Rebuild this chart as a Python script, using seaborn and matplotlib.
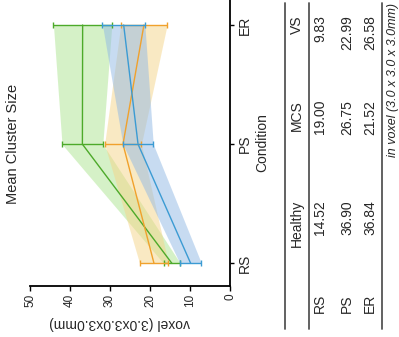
import numpy as np
import pandas as pd
import seaborn as sns
import matplotlib
matplotlib.use("Agg")
from matplotlib import pyplot as plt
from matplotlib.lines import Line2D

conditions = ["RS", "PS", "ER"]
groups = ["Healthy", "MCS", "VS"]
healthy = [14.52, 36.90, 36.84]
mcs = [19.00, 26.75, 21.52]
vs = [9.83, 22.99, 26.58]
healthy_err = [2.1, 5.1, 7.3]
mcs_err = [3.6, 4.6, 5.8]
vs_err = [2.7, 3.8, 5.3]
value_ticks = [0, 10, 20, 30, 40, 50]

line_colors = {"Healthy": "#4DAA2A", "MCS": "#F0A12C", "VS": "#3B9BD3"}
fill_colors = {"Healthy": "#ADE591", "MCS": "#F5D589", "VS": "#91B9E5"}

sns.set_style("white")
plt.rcParams["font.family"] = ["Liberation Sans", "DejaVu Sans"]

W, H = 399, 337
def px(x, y):
    return x / W, 1 - y / H

fig = plt.figure(figsize=(W / 100, H / 100), dpi=100)
ax = fig.add_axes([30 / W, 51 / H, 200 / W, 286 / H])

pos = np.arange(len(conditions))
series = [healthy, mcs, vs]
errors = [healthy_err, mcs_err, vs_err]

# shaded bands between error limits
for name, vals, err in zip(groups, series, errors):
    vals = np.array(vals)
    err = np.array(err)
    ax.fill_betweenx(pos, vals - err, vals + err, color=fill_colors[name],
                     alpha=0.5, lw=0, zorder=1)

df = pd.DataFrame({
    "pos": np.tile(pos, len(groups)),
    "voxel": healthy + mcs + vs,
    "group": np.repeat(groups, len(conditions)),
})
sns.lineplot(data=df, x="voxel", y="pos", hue="group", palette=line_colors,
             orient="y", lw=1, legend=False, ax=ax, zorder=3)

for name, vals, err in zip(groups, series, errors):
    ax.errorbar(vals, pos, xerr=err, fmt="none", ecolor=line_colors[name],
                elinewidth=1, capsize=2, capthick=1, zorder=4)

ax.set_xlim(50, 0)
ax.set_ylim(-0.19, 2.21)
ax.set_xticks(value_ticks)
ax.set_yticks(pos, conditions)
ax.yaxis.tick_right()

for side in ["left", "top"]:
    ax.spines[side].set_visible(False)
for side in ["right", "bottom"]:
    ax.spines[side].set_color("black")
    ax.spines[side].set_linewidth(1.3)

ax.tick_params(axis="x", labelrotation=90, labelsize=8.5, length=3.5, width=1,
               direction="out", pad=2, bottom=True, color="black")
ax.tick_params(axis="y", labelrotation=90, labelsize=10, length=3, width=1,
               direction="out", pad=3, right=True, left=False, color="black")
for lab in ax.get_yticklabels():
    lab.set_va("center")
    lab.set_ha("left")

ax.set_xlabel("voxel (3.0x3.0x3.0mm)", fontsize=10, rotation=180)
ax.xaxis.label.set_va("center")
ax.xaxis.set_label_coords(0.45, -0.13)

ax.yaxis.set_label_position("right")
ax.set_ylabel("Condition", fontsize=10, rotation=90)
ax.yaxis.label.set_rotation_mode("default")
ax.yaxis.label.set_va("center")
ax.yaxis.label.set_ha("center")
ax.yaxis.set_label_coords(1.16, 0.5)

fig.text(*px(13, 144), "Mean Cluster Size", rotation=90, ha="center",
         va="center", fontsize=10.5)

# table (rotated)
col_y = [200, 100, 15]
for name, y in zip(groups, col_y):
    fig.text(*px(297, y), name, rotation=90, ha="center", va="top", fontsize=10)
row_x = [320, 347, 370]
for i, (cond, x) in enumerate(zip(conditions, row_x)):
    fig.text(*px(x, 313), cond, rotation=90, ha="center", va="bottom", fontsize=10)
    for vals, y in zip(series, col_y):
        fig.text(*px(x, y), f"{vals[i]:.2f}", rotation=90, ha="center",
                 va="top", fontsize=10)

fig.text(*px(393, 3), "in voxel (3.0 x 3.0 x 3.0mm)", rotation=90, ha="center",
         va="top", fontsize=9, style="italic")

for x in [285, 309, 382]:
    fig.add_artist(Line2D([x / W, x / W], [1 - 3 / H, 1 - 329 / H],
                          transform=fig.transFigure, color="#555555", lw=1.3))

fig.savefig("out.png", dpi=100)
